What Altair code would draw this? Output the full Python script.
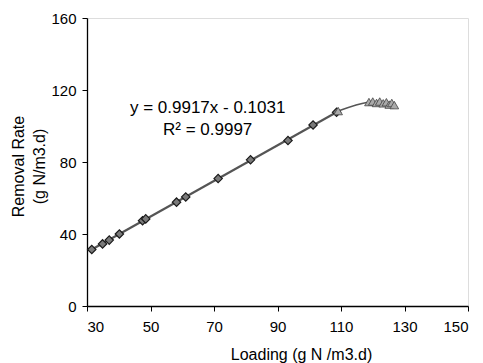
import altair as alt
import pandas as pd

# Diamond series (main data)
dia_x = [31.5, 34.9, 37.0, 40.2, 47.5, 48.5, 58.2, 61.1, 71.3, 81.5, 93.3, 101.2, 108.6]
dia_y = [31.4, 34.5, 36.6, 40.0, 47.4, 48.4, 57.7, 60.6, 70.8, 81.2, 91.9, 100.6, 107.6]

# Triangle series
tri_x = [109.1, 118.8, 120.0, 121.2, 122.2, 123.3, 124.3, 125.2, 126.0, 126.8]
tri_y = [108.3, 113.3, 113.6, 112.8, 113.6, 112.6, 113.2, 111.9, 112.8, 111.6]

eq_text = ["y = 0.9917x - 0.1031", "R\u00b2 = 0.9997"]
eq_x = [68, 68]
eq_y = [107.2, 95.0]

x_ticks = [30, 50, 70, 90, 110, 130, 150]
y_ticks = [0, 40, 80, 120, 160]

dia = pd.DataFrame({"x": dia_x, "y": dia_y})
tri = pd.DataFrame({"x": tri_x, "y": tri_y})
eq = pd.DataFrame({"x": eq_x, "y": eq_y, "t": eq_text})

FONT = "Liberation Sans"

xs = alt.Scale(domain=[30, 150], nice=False, zero=False)
ys = alt.Scale(domain=[0, 160], nice=False)

xaxis = alt.Axis(values=x_ticks, title="Loading (g N /m3.d)", grid=False,
                 tickSize=5, labelPadding=8, labelFontSize=15, labelFont=FONT,
                 titleFont=FONT, titleFontSize=16, titleFontWeight="normal",
                 titleX=214, titleY=53, titleBaseline="alphabetic", titleAlign="center",
                 domainColor="black", tickColor="black", labelColor="black", titleColor="black",
                 domainWidth=1.3)
yaxis = alt.Axis(values=y_ticks, title=["Removal Rate", "(g N/m3.d)"], grid=False,
                 tickSize=5, labelPadding=6, labelFontSize=15, labelFont=FONT,
                 titleFont=FONT, titleFontSize=16, titleFontWeight="normal",
                 titleAngle=-90, titleX=-64, titleY=148, titleBaseline="alphabetic",
                 titleAlign="center", titleLineHeight=21,
                 domainColor="black", tickColor="black", labelColor="black", titleColor="black",
                 domainWidth=1.3)

trend = alt.Chart(dia).transform_regression("x", "y", extent=[31.5, 109]).mark_line(
    color="#555555", strokeWidth=2.2
).encode(x=alt.X("x:Q", scale=xs, axis=xaxis), y=alt.Y("y:Q", scale=ys, axis=yaxis))

tri_line = alt.Chart(tri).mark_line(color="#555555", strokeWidth=1.5, interpolate="monotone").encode(
    x=alt.X("x:Q", scale=xs), y=alt.Y("y:Q", scale=ys), order="x:Q"
)

dia_pts = alt.Chart(dia).mark_point(shape="diamond", filled=True, size=70, color="#7a7a7a",
                                    stroke="#1a1a1a", strokeWidth=1.2, opacity=1).encode(
    x=alt.X("x:Q", scale=xs), y=alt.Y("y:Q", scale=ys)
)

tri_pts = alt.Chart(tri).mark_point(shape="triangle-up", filled=True, size=75, color="#aaaaaa",
                                    stroke="#444444", strokeWidth=0.8, opacity=1).encode(
    x=alt.X("x:Q", scale=xs), y=alt.Y("y:Q", scale=ys)
)

txt = alt.Chart(eq).mark_text(font=FONT, fontSize=17, align="center", baseline="alphabetic",
                              color="black").encode(
    x=alt.X("x:Q", scale=xs), y=alt.Y("y:Q", scale=ys), text="t:N"
)

chart = alt.layer(trend, tri_line, dia_pts, tri_pts, txt).properties(
    width=381, height=288,
    autosize=alt.AutoSizeParams(type="none"),
    padding={"left": 87, "top": 18, "right": 15, "bottom": 57},
).configure_view(stroke=None).configure(background="white")

chart.save("out.html", embed_options={"renderer": "svg", "actions": False})
